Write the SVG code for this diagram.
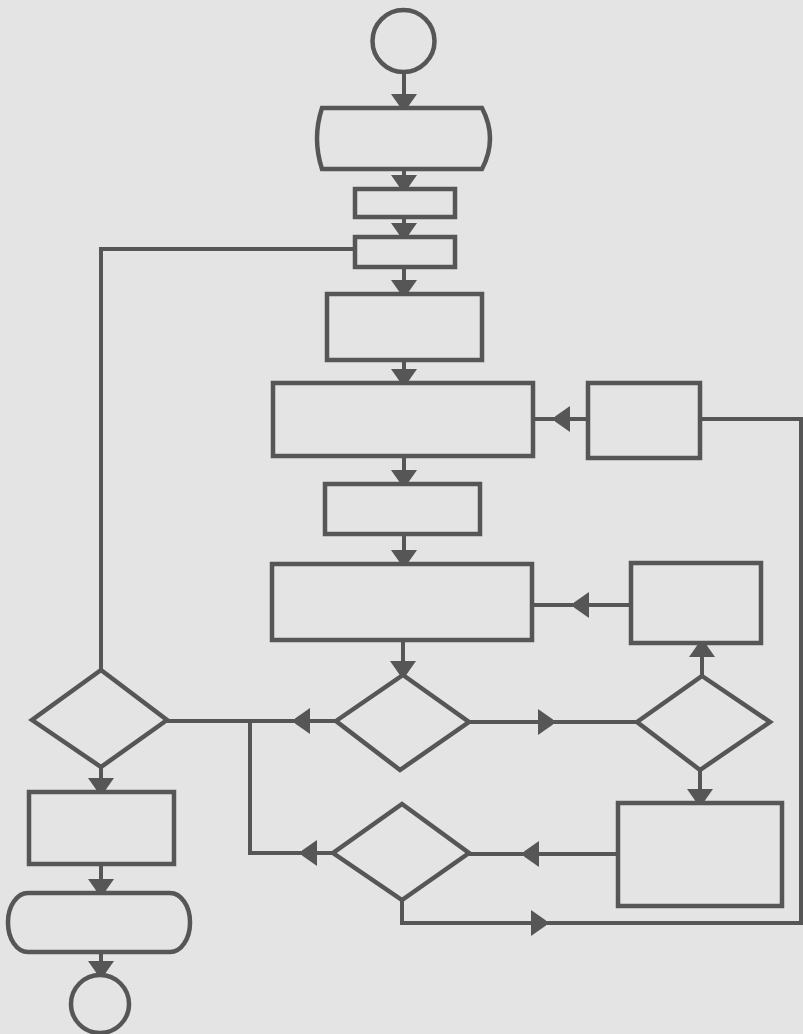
<svg xmlns="http://www.w3.org/2000/svg" width="803" height="1034" viewBox="0 0 803 1034">
<defs>
<style>
.n{fill:none;stroke:#565656;stroke-width:4.5;stroke-linejoin:miter}
.c{fill:none;stroke:#565656;stroke-width:4}
.a{marker-end:url(#arr)}
</style>
<marker id="arr" viewBox="0 0 15 26" refX="14" refY="13" markerWidth="15" markerHeight="26" markerUnits="userSpaceOnUse" orient="auto">
<path d="M0,0 L15,10.5 L15,15.5 L0,26 Z" fill="#565656"/>
</marker>
</defs>
<rect x="0" y="0" width="803" height="1034" fill="#e4e4e4"/>
<g id="connectors">
<path class="c a" d="M404,72 V108"/>
<path class="c a" d="M404,169 V189"/>
<path class="c a" d="M404,217 V237"/>
<path class="c a" d="M404,267 V294"/>
<path class="c a" d="M404,360 V383"/>
<path class="c a" d="M404,456 V484"/>
<path class="c a" d="M404,534 V564"/>
<path class="c a" d="M403,640 V675"/>
<path class="c a" d="M588,419 H556"/><path class="c" d="M557,419 H533"/>
<path class="c a" d="M631,605 H575"/><path class="c" d="M576,605 H532"/>
<path class="c a" d="M702,676 V643"/>
<path class="c a" d="M469,722 H552"/><path class="c" d="M551,722 H637"/>
<path class="c a" d="M336,721 H296"/><path class="c" d="M297,721 H167"/>
<path class="c a" d="M700,770 V803"/>
<path class="c a" d="M618,854 H525"/><path class="c" d="M526,854 H469"/>
<path class="c a" d="M333,853 H303"/><path class="c" d="M304,853 H250 V721"/>
<path class="c a" d="M402,900 V923 H545"/><path class="c" d="M544,923 H801 V419 H700"/>
<path class="c" d="M101,670 V249 H355"/>
<path class="c a" d="M101,767 V792"/>
<path class="c a" d="M101,864 V893"/>
<path class="c a" d="M101,952 V975"/>
</g>
<g id="start"><circle class="n" cx="403.5" cy="41" r="31"/></g>
<g id="terminator-top"><path class="n" d="M322,108 H482 Q498,138.5 482,169 H322 Q312,138.5 322,108 Z"/></g>
<g id="box2"><rect class="n" x="355" y="189" width="100" height="28"/></g>
<g id="box3"><rect class="n" x="355" y="237" width="100" height="30"/></g>
<g id="box4"><rect class="n" x="327" y="294" width="155" height="66"/></g>
<g id="box5"><rect class="n" x="273" y="383" width="260" height="73"/></g>
<g id="box6"><rect class="n" x="588" y="383" width="112" height="75"/></g>
<g id="box7"><rect class="n" x="325" y="484" width="155" height="50"/></g>
<g id="box8"><rect class="n" x="272" y="564" width="260" height="76"/></g>
<g id="box9"><rect class="n" x="631" y="563" width="130" height="80"/></g>
<g id="diamond-mid"><path class="n" d="M403,675 L469,722 L400,770 L336,721 Z"/></g>
<g id="diamond-right"><path class="n" d="M702,676 L770,722 L700,770 L637,722 Z"/></g>
<g id="diamond-left"><path class="n" d="M101,670 L167,720 L101,767 L32,720 Z"/></g>
<g id="diamond-low"><path class="n" d="M402,804 L469,853 L402,900 L333,853 Z"/></g>
<g id="box-low-right"><rect class="n" x="618" y="803" width="164" height="103"/></g>
<g id="box-left"><rect class="n" x="29" y="792" width="145" height="72"/></g>
<g id="terminator-bottom"><rect class="n" x="8" y="893" width="182" height="59" rx="20" ry="29"/></g>
<g id="end"><circle class="n" cx="100" cy="1004" r="29"/></g>
</svg>
